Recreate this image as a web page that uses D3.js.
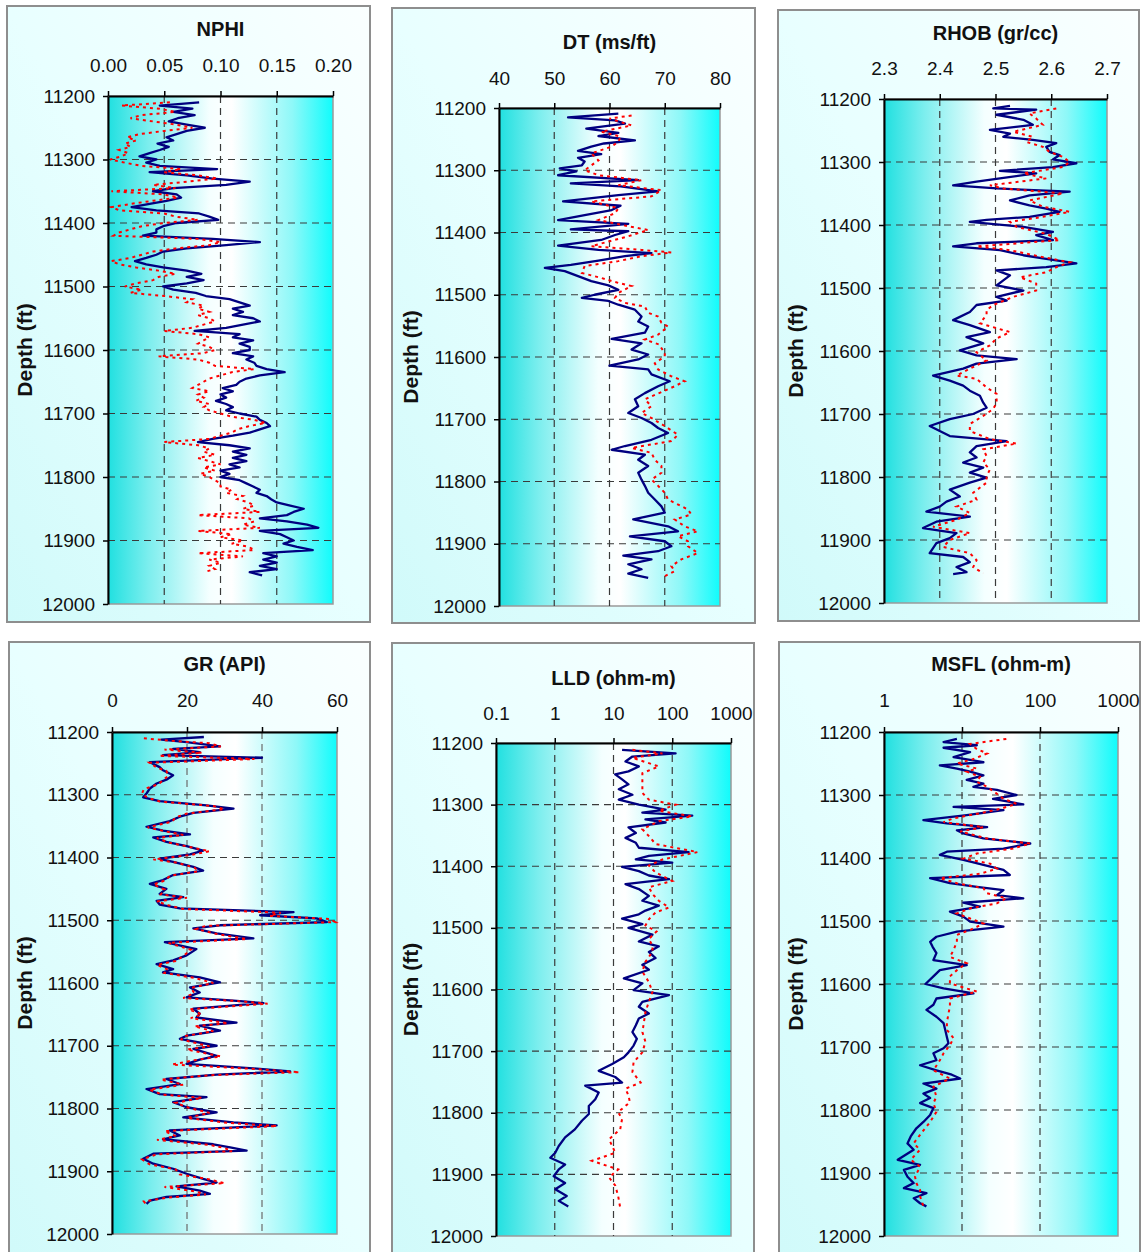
<!DOCTYPE html>
<html><head><meta charset="utf-8">
<script src="https://cdn.jsdelivr.net/npm/d3@7"></script>
<style>
html,body{margin:0;padding:0;background:#fff;}
svg{display:block;font-family:"Liberation Sans",Arial,sans-serif;}
</style></head>
<body>
<svg id="c" width="1145" height="1252"></svg>
<script>
// ---------------- DATA (depth ft, value) ----------------
const depthTicks = [11200,11300,11400,11500,11600,11700,11800,11900,12000];

const nphiMain = [[11210,0.081],[11215,0.046],[11220,0.075],[11225,0.058],[11230,0.077],[11235,0.062],[11240,0.054],[11245,0.07],[11250,0.086],[11255,0.07],[11260,0.061],[11265,0.052],[11270,0.058],[11275,0.044],[11280,0.054],[11285,0.046],[11290,0.037],[11295,0.028],[11300,0.043],[11305,0.034],[11310,0.046],[11315,0.097],[11320,0.037],[11325,0.07],[11330,0.093],[11335,0.126],[11340,0.105],[11345,0.058],[11350,0.04],[11355,0.061],[11360,0.065],[11365,0.052],[11370,0.037],[11375,0.021],[11380,0.043],[11385,0.081],[11390,0.09],[11395,0.098],[11400,0.061],[11405,0.049],[11410,0.043],[11415,0.043],[11420,0.031],[11425,0.093],[11430,0.135],[11435,0.105],[11440,0.07],[11445,0.049],[11450,0.043],[11455,0.034],[11460,0.024],[11465,0.034],[11470,0.049],[11475,0.07],[11480,0.083],[11485,0.07],[11490,0.085],[11495,0.07],[11500,0.049],[11505,0.058],[11510,0.078],[11515,0.087],[11520,0.108],[11525,0.117],[11530,0.126],[11535,0.111],[11540,0.12],[11545,0.111],[11550,0.129],[11555,0.135],[11560,0.12],[11565,0.105],[11570,0.077],[11575,0.117],[11580,0.111],[11585,0.129],[11590,0.117],[11595,0.126],[11600,0.126],[11605,0.111],[11610,0.129],[11615,0.123],[11620,0.13],[11625,0.132],[11630,0.141],[11635,0.157],[11640,0.135],[11645,0.123],[11650,0.117],[11655,0.114],[11660,0.102],[11665,0.111],[11670,0.1],[11675,0.105],[11680,0.096],[11685,0.105],[11690,0.111],[11695,0.105],[11700,0.117],[11705,0.132],[11710,0.135],[11715,0.141],[11720,0.144],[11725,0.135],[11730,0.126],[11735,0.111],[11740,0.093],[11745,0.08],[11750,0.108],[11755,0.126],[11760,0.111],[11765,0.123],[11770,0.111],[11775,0.123],[11780,0.108],[11785,0.117],[11790,0.1],[11795,0.108],[11800,0.1],[11805,0.117],[11810,0.123],[11815,0.129],[11820,0.135],[11825,0.132],[11830,0.141],[11835,0.145],[11840,0.15],[11845,0.162],[11850,0.174],[11855,0.165],[11860,0.159],[11865,0.135],[11870,0.159],[11875,0.177],[11880,0.187],[11885,0.135],[11890,0.153],[11895,0.159],[11900,0.165],[11905,0.156],[11910,0.168],[11915,0.182],[11920,0.138],[11925,0.15],[11930,0.138],[11935,0.15],[11940,0.135],[11945,0.15],[11950,0.126],[11955,0.137]];
const nphiAlt = [[11210,0.055],[11215,0.012],[11220,0.046],[11225,0.06],[11230,0.03],[11235,0.02],[11240,0.04],[11245,0.06],[11250,0.075],[11255,0.05],[11260,0.028],[11265,0.017],[11270,0.025],[11275,0.015],[11280,0.02],[11285,0.01],[11290,0.018],[11295,0.012],[11300,0.002],[11305,0.015],[11310,0.03],[11315,0.065],[11320,0.05],[11325,0.08],[11330,0.097],[11335,0.07],[11340,0.04],[11345,0.06],[11350,0.003],[11355,0.05],[11360,0.062],[11365,0.04],[11370,0.02],[11375,0.003],[11380,0.01],[11385,0.05],[11390,0.06],[11395,0.08],[11400,0.05],[11405,0.03],[11410,0.02],[11415,0.01],[11420,0.005],[11425,0.08],[11430,0.1],[11435,0.09],[11440,0.06],[11445,0.04],[11450,0.03],[11455,0.02],[11460,0.003],[11465,0.01],[11470,0.025],[11475,0.045],[11480,0.06],[11485,0.045],[11490,0.04],[11495,0.025],[11500,0.015],[11505,0.03],[11510,0.02],[11515,0.05],[11520,0.075],[11525,0.07],[11530,0.085],[11535,0.08],[11540,0.09],[11545,0.08],[11550,0.09],[11555,0.095],[11560,0.085],[11565,0.075],[11570,0.05],[11575,0.08],[11580,0.09],[11585,0.085],[11590,0.08],[11595,0.09],[11600,0.095],[11605,0.085],[11610,0.045],[11615,0.08],[11620,0.09],[11625,0.095],[11630,0.13],[11635,0.11],[11640,0.1],[11645,0.09],[11650,0.085],[11655,0.08],[11660,0.075],[11665,0.09],[11670,0.08],[11675,0.085],[11680,0.078],[11685,0.09],[11690,0.085],[11695,0.09],[11700,0.1],[11705,0.11],[11710,0.13],[11715,0.14],[11720,0.125],[11725,0.115],[11730,0.11],[11735,0.1],[11740,0.09],[11745,0.05],[11750,0.08],[11755,0.09],[11760,0.085],[11765,0.095],[11770,0.08],[11775,0.09],[11780,0.1],[11785,0.085],[11790,0.095],[11795,0.082],[11800,0.09],[11805,0.095],[11810,0.1],[11815,0.1],[11820,0.11],[11825,0.105],[11830,0.12],[11835,0.115],[11840,0.125],[11845,0.13],[11850,0.12],[11855,0.135],[11860,0.08],[11865,0.125],[11870,0.13],[11875,0.12],[11880,0.135],[11885,0.08],[11890,0.11],[11895,0.1],[11900,0.12],[11905,0.11],[11910,0.125],[11915,0.13],[11920,0.08],[11925,0.12],[11930,0.09],[11935,0.1],[11940,0.09],[11945,0.095],[11950,0.085]];

const dtMain = [[11209,61.6],[11215,52.5],[11220,61],[11225,62.8],[11233,55.8],[11240,61.6],[11245,58],[11252,64.6],[11257,59],[11262,56.7],[11269,54.3],[11274,58.5],[11280,54.3],[11286,55.5],[11292,55],[11297,51],[11302,54],[11308,50.7],[11316,65.2],[11321,53],[11326,62],[11334,68.8],[11340,61.6],[11350,51.6],[11357,62],[11364,60.4],[11372,55.5],[11380,50.7],[11386,63.4],[11395,53],[11398,63.4],[11404,61],[11412,58.5],[11421,50.7],[11428,58],[11433,67.6],[11438,62.8],[11445,58],[11452,53],[11457,48.3],[11462,51.9],[11470,54.3],[11478,56.7],[11485,59.8],[11492,61.6],[11500,57.3],[11505,55],[11510,59.8],[11516,61.6],[11524,64.6],[11535,65.8],[11543,65.2],[11551,67],[11561,66.4],[11571,60.4],[11578,65.8],[11588,64],[11596,67],[11604,65.2],[11614,60],[11620,67],[11628,67.6],[11639,70.9],[11647,68.8],[11658,66.4],[11668,64.6],[11679,65.2],[11690,63.4],[11698,65.8],[11706,67.6],[11714,68.8],[11722,70.6],[11733,67.6],[11743,62.8],[11749,60.4],[11757,66.4],[11765,65.2],[11775,67],[11786,65.2],[11797,65.8],[11807,66.4],[11818,67],[11829,68.2],[11840,69.4],[11850,70],[11861,64.3],[11872,70.6],[11880,72.4],[11888,63.7],[11896,70],[11904,71.2],[11912,68.8],[11919,62.5],[11925,67.6],[11933,63.4],[11941,65.8],[11948,63.4],[11955,67]];
const dtAlt = [[11212,64],[11217,60],[11228,64],[11238,58.5],[11246,62],[11254,61.6],[11262,60.4],[11273,56.7],[11284,58],[11300,55.5],[11308,58],[11316,65.8],[11324,61.6],[11332,69.4],[11342,67.6],[11350,56.7],[11361,61.6],[11369,61],[11380,58],[11390,63.4],[11396,67],[11406,63.4],[11422,56.7],[11428,65.8],[11432,71.2],[11438,65.8],[11446,61.6],[11454,55.5],[11465,55],[11473,58.5],[11481,61.6],[11486,64],[11497,61.6],[11505,61],[11513,62.8],[11519,66.4],[11529,67],[11535,68.8],[11545,69.4],[11551,70.6],[11564,68.8],[11572,66.4],[11580,69],[11594,70],[11599,70],[11610,68.2],[11620,68.8],[11631,71.2],[11639,73.6],[11647,71.8],[11668,66.4],[11679,67.6],[11690,65.8],[11698,67.6],[11711,70],[11725,72.4],[11735,71.2],[11746,64],[11754,67.6],[11765,68.2],[11775,69.4],[11786,69.4],[11797,67.6],[11807,68.8],[11818,70],[11829,70.6],[11845,74.2],[11853,74.8],[11861,71.8],[11872,73.6],[11880,76],[11888,72.4],[11896,74.2],[11904,74.2],[11915,76],[11925,73],[11936,71.2],[11944,71.8],[11952,70]];

const rhobMain = [[11211,2.526],[11215,2.496],[11217,2.573],[11225,2.502],[11233,2.55],[11241,2.567],[11249,2.49],[11255,2.526],[11260,2.514],[11265,2.567],[11270,2.609],[11276,2.591],[11284,2.597],[11289,2.615],[11296,2.603],[11302,2.645],[11308,2.603],[11314,2.508],[11318,2.573],[11326,2.508],[11331,2.466],[11337,2.424],[11342,2.502],[11347,2.633],[11353,2.561],[11361,2.526],[11369,2.561],[11374,2.591],[11379,2.615],[11387,2.561],[11392,2.484],[11395,2.454],[11403,2.55],[11411,2.603],[11416,2.573],[11424,2.603],[11429,2.466],[11434,2.424],[11440,2.508],[11448,2.55],[11453,2.585],[11461,2.645],[11467,2.591],[11472,2.502],[11480,2.526],[11488,2.514],[11496,2.502],[11504,2.55],[11514,2.502],[11520,2.52],[11527,2.466],[11538,2.454],[11551,2.424],[11559,2.454],[11570,2.49],[11578,2.448],[11588,2.478],[11599,2.436],[11607,2.466],[11613,2.538],[11620,2.466],[11628,2.442],[11639,2.388],[11647,2.418],[11655,2.442],[11663,2.454],[11671,2.472],[11682,2.478],[11690,2.484],[11700,2.46],[11708,2.418],[11719,2.382],[11727,2.4],[11735,2.418],[11743,2.52],[11751,2.466],[11761,2.454],[11769,2.466],[11777,2.442],[11785,2.478],[11793,2.454],[11801,2.484],[11809,2.454],[11820,2.418],[11831,2.436],[11839,2.412],[11847,2.4],[11855,2.376],[11863,2.454],[11871,2.394],[11881,2.37],[11889,2.43],[11897,2.418],[11905,2.394],[11913,2.388],[11921,2.382],[11927,2.442],[11935,2.454],[11943,2.43],[11951,2.448],[11954,2.424]];
const rhobAlt = [[11215,2.609],[11223,2.561],[11231,2.573],[11241,2.585],[11252,2.532],[11260,2.567],[11268,2.555],[11276,2.585],[11284,2.597],[11292,2.621],[11300,2.633],[11308,2.621],[11318,2.55],[11326,2.591],[11337,2.49],[11342,2.514],[11350,2.621],[11361,2.561],[11371,2.585],[11379,2.633],[11387,2.585],[11395,2.526],[11403,2.538],[11414,2.591],[11424,2.615],[11434,2.466],[11440,2.526],[11451,2.585],[11459,2.633],[11467,2.609],[11475,2.591],[11483,2.544],[11493,2.573],[11504,2.573],[11514,2.532],[11527,2.496],[11535,2.484],[11543,2.484],[11556,2.472],[11570,2.526],[11580,2.502],[11591,2.49],[11602,2.466],[11615,2.484],[11628,2.454],[11639,2.43],[11644,2.466],[11658,2.484],[11668,2.502],[11682,2.502],[11692,2.496],[11703,2.478],[11716,2.454],[11727,2.454],[11740,2.49],[11747,2.538],[11756,2.478],[11767,2.484],[11777,2.478],[11788,2.49],[11799,2.484],[11809,2.484],[11825,2.46],[11836,2.466],[11847,2.43],[11857,2.454],[11868,2.43],[11879,2.388],[11889,2.454],[11900,2.418],[11911,2.406],[11921,2.454],[11932,2.466],[11943,2.46],[11953,2.478]];

const grMain = [[11208,24.5],[11212,13.2],[11216,19.9],[11223,28.8],[11227,16.3],[11232,23.4],[11237,13.6],[11241,40],[11248,10.1],[11256,12.7],[11261,13.6],[11269,16.3],[11276,14.5],[11282,11.9],[11290,10.1],[11298,9.2],[11304,8.3],[11310,12.7],[11317,25.2],[11322,32.4],[11329,21.7],[11335,18.1],[11342,15.4],[11351,9.2],[11357,13.6],[11363,20.8],[11368,11],[11375,14.5],[11382,19.9],[11389,24.3],[11395,20.8],[11402,12.7],[11407,16.3],[11415,21.7],[11421,24.3],[11428,16.3],[11436,13.6],[11442,10.1],[11450,14.5],[11458,12.7],[11463,19],[11469,11.9],[11475,12.7],[11481,18.1],[11487,48.4],[11492,39.5],[11497,54.6],[11503,57.3],[11508,28.8],[11513,21.7],[11521,27.9],[11529,37.7],[11535,14.1],[11546,22.5],[11556,19.9],[11564,16.3],[11570,11.9],[11578,16.3],[11583,13.6],[11591,23.4],[11599,28.8],[11607,20.8],[11615,23.4],[11623,19.9],[11628,32.4],[11632,40.4],[11641,21.7],[11649,23.4],[11655,22.5],[11663,33.2],[11668,23.4],[11676,28.8],[11684,19.9],[11689,18.1],[11700,27.9],[11705,21.7],[11716,27.9],[11722,23.4],[11729,19.9],[11736,37.7],[11741,47.5],[11746,27.9],[11753,14.5],[11761,18.1],[11769,9.2],[11777,12.7],[11782,25.2],[11790,16.3],[11798,19.9],[11806,27.9],[11814,19],[11822,32.4],[11827,43.9],[11835,15.4],[11843,18.1],[11849,13.6],[11857,27],[11862,31.5],[11867,35.9],[11872,11],[11880,8.3],[11888,11],[11896,16.3],[11904,19.9],[11912,24.3],[11918,27.9],[11924,17.2],[11931,23.4],[11936,26.1],[11941,14.5],[11947,10.1],[11952,9.2]];
const grAlt = [[11210,8.5],[11214,16],[11218,26],[11223,29],[11228,14],[11233,24],[11238,12.5],[11243,38],[11249,10],[11257,12],[11262,14.5],[11270,15],[11277,13.5],[11283,12.5],[11291,8.5],[11298,8],[11305,9.5],[11311,13],[11318,27],[11323,30],[11330,20],[11336,17],[11343,16],[11352,9.5],[11358,14],[11364,19],[11369,12],[11376,15],[11383,20.5],[11390,26],[11396,21],[11403,11],[11408,17],[11416,22],[11422,23],[11429,15.5],[11437,14],[11443,11],[11451,14],[11459,13],[11464,20],[11470,12],[11476,15],[11482,19],[11488,45],[11493,42],[11498,58],[11503,59.5],[11509,25],[11514,22.5],[11522,28],[11530,36],[11536,15],[11547,21],[11557,19],[11565,17],[11571,12],[11579,15],[11584,14],[11592,22],[11600,27],[11608,21],[11616,22],[11624,19],[11629,34],[11633,41.5],[11642,20.5],[11650,24],[11656,21],[11664,31],[11669,22],[11677,27],[11685,19],[11690,18.5],[11701,26],[11706,20],[11717,29],[11723,22],[11730,16],[11737,38],[11742,50],[11747,26],[11754,13],[11762,19],[11770,10],[11778,13.5],[11783,24],[11791,17],[11799,20.5],[11807,26],[11815,20],[11823,31],[11828,44],[11836,14],[11844,17],[11850,12],[11858,26],[11863,30],[11868,32],[11873,12],[11881,8],[11889,10],[11897,17],[11905,18],[11913,26],[11919,30],[11925,14],[11932,22],[11937,25],[11942,15],[11948,8.5],[11952,9]];

const lldMain = [[11211,14],[11217,114],[11222,21],[11230,16],[11238,27],[11246,18],[11251,10.7],[11259,14],[11267,18],[11275,12.3],[11284,21],[11292,12.3],[11300,27],[11308,77],[11313,31],[11318,219],[11324,35],[11329,77],[11337,18],[11346,24],[11354,16],[11362,24],[11370,27],[11377,190],[11383,40],[11389,24],[11394,100],[11401,14],[11408,27],[11415,40],[11421,88],[11429,16],[11437,27],[11448,40],[11456,31],[11464,59],[11472,35],[11478,27],[11485,14],[11494,31],[11500,18],[11511,46],[11522,27],[11530,59],[11539,40],[11549,52],[11560,31],[11568,40],[11582,15],[11590,31],[11601,22],[11609,88],[11620,31],[11628,27],[11639,40],[11647,27],[11658,24],[11669,21],[11680,25],[11691,22],[11702,18],[11710,15],[11721,9.5],[11732,5.6],[11742,10.7],[11751,14],[11756,3.3],[11767,5.6],[11778,4.9],[11789,3.8],[11802,3.8],[11813,2.9],[11827,2.2],[11840,1.5],[11854,1.17],[11865,1.02],[11873,0.84],[11884,1.5],[11892,1.17],[11903,0.96],[11914,1.5],[11924,1.02],[11935,1.6],[11943,1.17],[11952,1.7]];
const lldAlt = [[11211,21],[11217,68],[11224,21],[11238,59],[11249,31],[11265,31],[11281,31],[11292,40],[11300,114],[11310,59],[11319,219],[11327,59],[11340,31],[11351,40],[11364,52],[11377,270],[11389,68],[11399,40],[11410,52],[11424,100],[11434,40],[11445,46],[11456,59],[11467,88],[11475,52],[11486,40],[11496,35],[11506,54],[11518,40],[11529,46],[11539,46],[11555,35],[11571,31],[11588,40],[11604,46],[11620,40],[11636,35],[11653,33],[11669,31],[11685,35],[11702,31],[11718,22],[11734,21],[11751,29],[11761,16],[11772,18],[11783,19],[11799,12],[11810,14],[11827,13],[11843,8.4],[11854,9.5],[11865,10.7],[11878,4.3],[11892,12],[11905,8.4],[11918,10.7],[11935,12],[11954,13]];

const msflMain = [[11211,8.6],[11216,5.8],[11221,15.5],[11225,5.8],[11232,12.7],[11240,7.8],[11248,18.8],[11253,5.2],[11258,8.6],[11263,12.7],[11269,18.8],[11276,11.5],[11282,18.8],[11287,14],[11292,28],[11300,50],[11306,25],[11311,41],[11315,61],[11319,7.8],[11324,34],[11332,11.5],[11340,3.2],[11345,6.4],[11351,21],[11356,8.6],[11361,10.4],[11369,18.8],[11377,75],[11385,34],[11390,6.4],[11395,5.2],[11403,10.4],[11411,18.8],[11419,34],[11427,41],[11432,3.9],[11440,7],[11446,15.5],[11451,34],[11459,28],[11464,61],[11471,10.4],[11477,17],[11485,7],[11493,10.4],[11501,12.7],[11509,34],[11517,8.6],[11525,4.7],[11533,3.9],[11541,4.2],[11551,4.7],[11562,4.3],[11570,11.5],[11578,5.2],[11588,4.3],[11600,3.4],[11607,5.8],[11615,14],[11623,4.7],[11633,4.3],[11641,3.5],[11652,4.7],[11662,5.8],[11673,6.1],[11684,6.4],[11694,6.7],[11702,5.8],[11710,4.3],[11721,4.7],[11729,2.9],[11737,4.7],[11744,7.4],[11750,9.5],[11758,3.2],[11766,4.7],[11774,3.2],[11781,3.9],[11789,2.9],[11797,4.3],[11808,3.9],[11819,3.2],[11829,2.6],[11842,2.2],[11853,2.0],[11863,2.4],[11879,1.5],[11887,2.9],[11895,1.8],[11906,2.0],[11916,2.4],[11924,1.8],[11932,3.5],[11940,2.4],[11948,2.9],[11953,3.5]];
const msflAlt = [[11211,37],[11219,12.7],[11227,15.5],[11234,21],[11243,14],[11250,8.6],[11258,15.5],[11263,11.5],[11271,17],[11279,15.5],[11287,21],[11298,28],[11306,34],[11314,50],[11322,31],[11329,17],[11337,7.8],[11343,5.8],[11351,18.8],[11358,9.5],[11369,21],[11377,75],[11385,45],[11393,15.5],[11401,10.4],[11409,23],[11417,28],[11425,17],[11432,5.2],[11440,8.6],[11448,18.8],[11456,21],[11464,37],[11472,28],[11480,12.7],[11488,8.6],[11496,12.7],[11504,18.8],[11512,14],[11522,8.6],[11533,8.6],[11546,7.8],[11557,7],[11567,11.5],[11578,8.6],[11588,7],[11599,7],[11612,15.5],[11623,7],[11636,7],[11647,6.7],[11662,6.4],[11673,6.4],[11686,7.8],[11697,7],[11710,5.8],[11721,5.2],[11737,4.3],[11750,7],[11763,4.3],[11779,4.7],[11789,4.3],[11803,4.7],[11819,3.9],[11837,3.0],[11853,2.4],[11863,2.9],[11879,2.2],[11890,2.9],[11906,2.5],[11916,2.6],[11927,2.9],[11937,2.9],[11953,3.2]];

const nphiTicks = [0,0.05,0.1,0.15,0.2];
const dtTicks = [40,50,60,70,80];
const rhobTicks = [2.3,2.4,2.5,2.6,2.7];
const grTicks = [0,20,40,60];
const lldTicks = [0.1,1,10,100,1000];
const msflTicks = [1,10,100,1000];

const titles = ["NPHI","DT (ms/ft)","RHOB (gr/cc)","GR (API)","LLD (ohm-m)","MSFL (ohm-m)"];
const yLabel = "Depth (ft)";

// ---------------- LAYOUT ----------------
const panels = [
  {title:titles[0], log:false, ticks:nphiTicks, fmt:d3.format(".2f"), main:nphiMain, alt:nphiAlt,
   frame:[7,6,370,622], plot:[108,96,333,604], titleY:36, tickY:72, ylabX:25, grid:"#3a3a3a"},
  {title:titles[1], log:false, ticks:dtTicks, fmt:d3.format("d"), main:dtMain, alt:dtAlt,
   frame:[392,8,755,623], plot:[499,108,720,606], titleY:49, tickY:85, ylabX:411, grid:"#3a3a3a"},
  {title:titles[2], log:false, ticks:rhobTicks, fmt:d3.format(".1f"), main:rhobMain, alt:rhobAlt,
   frame:[778,10,1139,621], plot:[884,99,1107,603], titleY:40, tickY:75, ylabX:796, grid:"#3a3a3a"},
  {title:titles[3], log:false, ticks:grTicks, fmt:d3.format("d"), main:grMain, alt:grAlt,
   frame:[9,642,370,1262], plot:[112,732,337,1234], titleY:671, tickY:707, ylabX:25, grid:"#6a6a6a"},
  {title:titles[4], log:true, ticks:lldTicks, fmt:d=>String(d), main:lldMain, alt:lldAlt,
   frame:[392,643,754,1262], plot:[496,743,731,1236], titleY:685, tickY:720, ylabX:411, grid:"#3a3a3a"},
  {title:titles[5], log:true, ticks:msflTicks, fmt:d=>String(d), main:msflMain, alt:msflAlt,
   frame:[779,642,1140,1262], plot:[884,732,1118,1236], titleY:671, tickY:707, ylabX:796, grid:"#3a3a3a"}
];

const svg = d3.select("#c");
const defs = svg.append("defs");
const fg = defs.append("linearGradient").attr("id","frameGrad")
  .attr("x1","1").attr("y1","0").attr("x2","0").attr("y2","1");
fg.append("stop").attr("offset","0").attr("stop-color","#FAFFFF");
fg.append("stop").attr("offset","0.5").attr("stop-color","#E8FFFF");
fg.append("stop").attr("offset","1").attr("stop-color","#D0FAFA");
const pg = defs.append("linearGradient").attr("id","plotGrad")
  .attr("x1","0").attr("y1","0").attr("x2","1").attr("y2","0");
pg.append("stop").attr("offset","0").attr("stop-color","#20E0E0");
pg.append("stop").attr("offset","0.18").attr("stop-color","#7CEEEE");
pg.append("stop").attr("offset","0.45").attr("stop-color","#F4FFFF");
pg.append("stop").attr("offset","0.55").attr("stop-color","#FFFFFF");
pg.append("stop").attr("offset","0.82").attr("stop-color","#8EF8F8");
pg.append("stop").attr("offset","1").attr("stop-color","#10FCFC");

panels.forEach(p => {
  const [fx0,fy0,fx1,fy1] = p.frame;
  const [px0,py0,px1,py1] = p.plot;
  const g = svg.append("g");
  g.append("rect").attr("x",fx0).attr("y",fy0).attr("width",fx1-fx0).attr("height",fy1-fy0)
    .attr("fill","url(#frameGrad)").attr("stroke","#8E8E8E").attr("stroke-width",2);

  const x = (p.log ? d3.scaleLog() : d3.scaleLinear())
    .domain([p.ticks[0], p.ticks[p.ticks.length-1]]).range([px0,px1]);
  const y = d3.scaleLinear().domain([11200,12000]).range([py0,py1]);

  g.append("rect").attr("x",px0).attr("y",py0).attr("width",px1-px0).attr("height",py1-py0)
    .attr("fill","url(#plotGrad)").attr("stroke","#9A9A9A").attr("stroke-width",1.5);

  // grid
  g.append("g").selectAll("line").data(p.ticks.slice(1,-1)).join("line")
    .attr("x1",d=>x(d)).attr("x2",d=>x(d)).attr("y1",py0).attr("y2",py1)
    .attr("stroke",p.grid).attr("stroke-width",1.2).attr("stroke-dasharray","7,5");
  g.append("g").selectAll("line").data(depthTicks.slice(1,-1)).join("line")
    .attr("x1",px0).attr("x2",px1).attr("y1",d=>y(d)).attr("y2",d=>y(d))
    .attr("stroke","#3a3a3a").attr("stroke-width",1.2).attr("stroke-dasharray","7,5");

  const line = d3.line().x(d=>x(d[1])).y(d=>y(d[0]));
  g.append("path").datum(p.main).attr("d",line).attr("fill","none")
    .attr("stroke","#000080").attr("stroke-width",2.3).attr("stroke-linejoin","round");
  g.append("path").datum(p.alt).attr("d",line).attr("fill","none")
    .attr("stroke","#FF0000").attr("stroke-width",2).attr("stroke-dasharray","3,4");

  // axes
  const top = g.append("g").attr("transform",`translate(0,${py0})`)
    .call(d3.axisTop(x).tickValues(p.ticks).tickFormat(p.fmt).tickSize(5).tickSizeOuter(0).tickPadding(py0-p.tickY-5));
  const left = g.append("g").attr("transform",`translate(${px0},0)`)
    .call(d3.axisLeft(y).tickValues(depthTicks).tickFormat(d3.format("d")).tickSize(5).tickSizeOuter(0).tickPadding(8));
  [top,left].forEach(a=>{
    a.select(".domain").attr("stroke","#000").attr("stroke-width",2);
    a.selectAll(".tick line").attr("stroke","#000").attr("stroke-width",1.5);
    a.selectAll(".tick text").attr("fill","#111").attr("font-size","19px")
      .attr("font-family","'Liberation Sans',Arial,sans-serif");
  });
  g.append("text").attr("x",(px0+px1)/2).attr("y",p.titleY).attr("text-anchor","middle")
    .attr("font-size","20px").attr("font-weight","bold").attr("fill","#111").text(p.title);
  g.append("text").attr("transform",`translate(${p.ylabX+7},${(py0+py1)/2}) rotate(-90)`)
    .attr("text-anchor","middle").attr("font-size","21px").attr("font-weight","bold").attr("fill","#111").text(yLabel);
});
</script>
</body></html>
